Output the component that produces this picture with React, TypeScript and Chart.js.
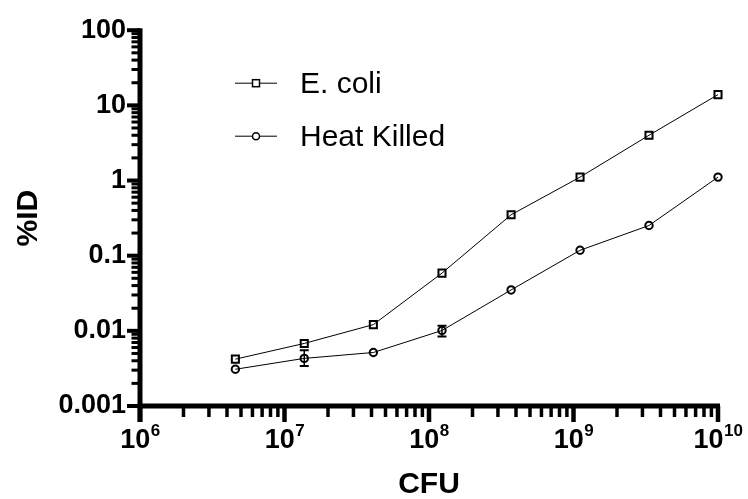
import React, { useEffect, useRef } from 'react';
import { Chart, registerables } from 'chart.js';

Chart.register(...registerables);

const cfu = [4.57e6, 1.37e7, 4.12e7, 1.23e8, 3.7e8, 1.11e9, 3.33e9, 1e10];
const ecoli = [0.0042, 0.0068, 0.0121, 0.0586, 0.35, 1.11, 4.0, 13.9];
const heatKilled = [0.00308, 0.0043, 0.00515, 0.0101, 0.035, 0.118, 0.252, 1.11];
const heatKilledLow = [null, 0.0034, null, 0.0084, null, null, null, null];
const heatKilledHigh = [null, 0.0055, null, 0.0117, null, null, null, null];
const seriesNames = ['E. coli', 'Heat Killed'];
const yTickLabels = ['0.001', '0.01', '0.1', '1', '10', '100'];
const xTickExponents = ['6', '7', '8', '9', '10'];

const FONT = "'Liberation Sans', Arial, Helvetica, sans-serif";

const customPlugin = {
  id: 'customAxes',
  afterDraw(chart: any) {
    const ctx = chart.ctx;
    const xs = chart.scales.x;
    const ys = chart.scales.y;
    const x0 = xs.getPixelForValue(1e6);
    const x1 = xs.getPixelForValue(1e10);
    const y0 = ys.getPixelForValue(0.001);
    const yTop = ys.getPixelForValue(100);
    ctx.save();
    ctx.strokeStyle = '#000';
    ctx.fillStyle = '#000';
    ctx.lineCap = 'butt';

    // error bars
    heatKilledLow.forEach((lo, i) => {
      const hi = heatKilledHigh[i];
      if (lo == null || hi == null) return;
      const px = xs.getPixelForValue(cfu[i]);
      const pLo = ys.getPixelForValue(lo);
      const pHi = ys.getPixelForValue(hi);
      ctx.lineWidth = 1.5;
      ctx.beginPath();
      ctx.moveTo(px, pLo);
      ctx.lineTo(px, pHi);
      ctx.stroke();
      ctx.lineWidth = 2;
      ctx.beginPath();
      ctx.moveTo(px - 4.5, pLo);
      ctx.lineTo(px + 4.5, pLo);
      ctx.moveTo(px - 4.5, pHi);
      ctx.lineTo(px + 4.5, pHi);
      ctx.stroke();
    });

    // y axis line
    ctx.lineWidth = 5;
    ctx.beginPath();
    ctx.moveTo(x0, yTop - 2);
    ctx.lineTo(x0, y0 + 16);
    ctx.stroke();
    // x axis line
    ctx.beginPath();
    ctx.moveTo(x0 - 2.5, y0);
    ctx.lineTo(x1 + 2, y0);
    ctx.stroke();

    // y ticks
    for (let e = -3; e <= 2; e++) {
      for (let m = 1; m <= 9; m++) {
        const v = m * Math.pow(10, e);
        if (v > 100.0001) break;
        const py = ys.getPixelForValue(v);
        const major = m === 1;
        ctx.lineWidth = major ? 4 : 3;
        ctx.beginPath();
        ctx.moveTo(x0, py);
        ctx.lineTo(x0 - (major ? 13 : 8.5), py);
        ctx.stroke();
      }
    }
    // x ticks
    for (let e = 6; e <= 10; e++) {
      for (let m = 1; m <= 9; m++) {
        const v = m * Math.pow(10, e);
        if (v > 1.00001e10) break;
        const px = xs.getPixelForValue(v);
        const major = m === 1;
        ctx.lineWidth = major ? 4.5 : 3.5;
        ctx.beginPath();
        ctx.moveTo(px, y0);
        ctx.lineTo(px, y0 + (major ? 16 : 11));
        ctx.stroke();
      }
    }

    // x tick labels 10^n
    xTickExponents.forEach((ex) => {
      const v = Math.pow(10, Number(ex));
      const px = xs.getPixelForValue(v);
      ctx.font = `bold 27px ${FONT}`;
      const wBase = ctx.measureText('10').width;
      ctx.font = `bold 17px ${FONT}`;
      const wSup = ctx.measureText(ex).width;
      const start = px - (wBase + wSup) / 2;
      ctx.textAlign = 'left';
      ctx.textBaseline = 'alphabetic';
      ctx.font = `bold 27px ${FONT}`;
      ctx.fillText('10', start, y0 + 42);
      ctx.font = `bold 17px ${FONT}`;
      ctx.fillText(ex, start + wBase + 0.5, y0 + 30);
    });

    // legend
    const lx = x0 + 95;
    const legendRows = [
      { y: yTop + 53, style: 'rect', label: seriesNames[0] },
      { y: yTop + 106, style: 'circle', label: seriesNames[1] },
    ];
    legendRows.forEach((r) => {
      ctx.lineWidth = 1;
      ctx.strokeStyle = '#000';
      ctx.beginPath();
      ctx.moveTo(lx, r.y);
      ctx.lineTo(lx + 42, r.y);
      ctx.stroke();
      ctx.lineWidth = 1.5;
      const cx = lx + 21;
      ctx.fillStyle = '#fff';
      if (r.style === 'rect') {
        ctx.fillRect(cx - 3.5, r.y - 3.5, 7, 7);
        ctx.strokeRect(cx - 3.5, r.y - 3.5, 7, 7);
      } else {
        ctx.beginPath();
        ctx.arc(cx, r.y, 3.5, 0, Math.PI * 2);
        ctx.fill();
        ctx.stroke();
      }
      ctx.fillStyle = '#000';
      ctx.font = `30px ${FONT}`;
      ctx.textAlign = 'left';
      ctx.textBaseline = 'alphabetic';
      ctx.fillText(r.label, lx + 65, r.y + 10);
    });
    ctx.restore();
  },
};

export default function App() {
  const ref = useRef<HTMLCanvasElement | null>(null);
  useEffect(() => {
    if (!ref.current) return;
    const chart = new Chart(ref.current, {
      type: 'line',
      data: {
        datasets: [
          {
            label: seriesNames[0],
            data: cfu.map((x, i) => ({ x, y: ecoli[i] })),
            borderColor: '#000',
            borderWidth: 1,
            pointStyle: 'rect',
            pointRadius: 5,
            pointBorderWidth: 2,
            pointBorderColor: '#000',
            pointBackgroundColor: 'rgba(0,0,0,0)',
            clip: false as any,
            tension: 0,
          },
          {
            label: seriesNames[1],
            data: cfu.map((x, i) => ({ x, y: heatKilled[i] })),
            borderColor: '#000',
            borderWidth: 1,
            pointStyle: 'circle',
            pointRadius: 3.7,
            pointBorderWidth: 2,
            pointBorderColor: '#000',
            pointBackgroundColor: 'rgba(0,0,0,0)',
            clip: false as any,
            tension: 0,
          },
        ],
      },
      options: {
        animation: false,
        responsive: false,
        events: [],
        layout: { padding: { left: 0, right: 30, top: 26, bottom: 0 } },
        plugins: { legend: { display: false }, tooltip: { enabled: false } },
        scales: {
          x: {
            type: 'logarithmic',
            min: 1e6,
            max: 1e10,
            grid: { display: false, drawTicks: false },
            border: { display: false },
            ticks: { display: false },
            title: {
              display: true,
              text: 'CFU',
              color: '#000',
              font: { family: FONT, size: 30, weight: 'bold' },
              padding: { top: 0, bottom: -4 },
            },
            afterFit: (s: any) => {
              s.height = 93;
            },
          },
          y: {
            type: 'logarithmic',
            min: 0.001,
            max: 100,
            grid: { display: false, drawTicks: false },
            border: { display: false },
            ticks: {
              autoSkip: false,
              padding: 14,
              color: '#000',
              font: { family: FONT, size: 27, weight: 'bold' },
              callback: (value: any) => {
                const l = Math.log10(Number(value));
                if (Math.abs(l - Math.round(l)) > 1e-6) return '';
                return yTickLabels[Math.round(l) + 3] ?? '';
              },
            },
            title: {
              display: true,
              text: '%ID',
              color: '#000',
              font: { family: FONT, size: 30, weight: 'bold' },
              padding: { top: 11, bottom: 0 },
            },
            afterFit: (s: any) => {
              s.width = 140;
            },
          },
        },
      } as any,
      plugins: [customPlugin],
    });
    return () => chart.destroy();
  }, []);
  return (
    <canvas
      ref={ref}
      width={748}
      height={499}
      style={{ position: 'absolute', left: 0, top: 0, width: 748, height: 499 }}
    />
  );
}
